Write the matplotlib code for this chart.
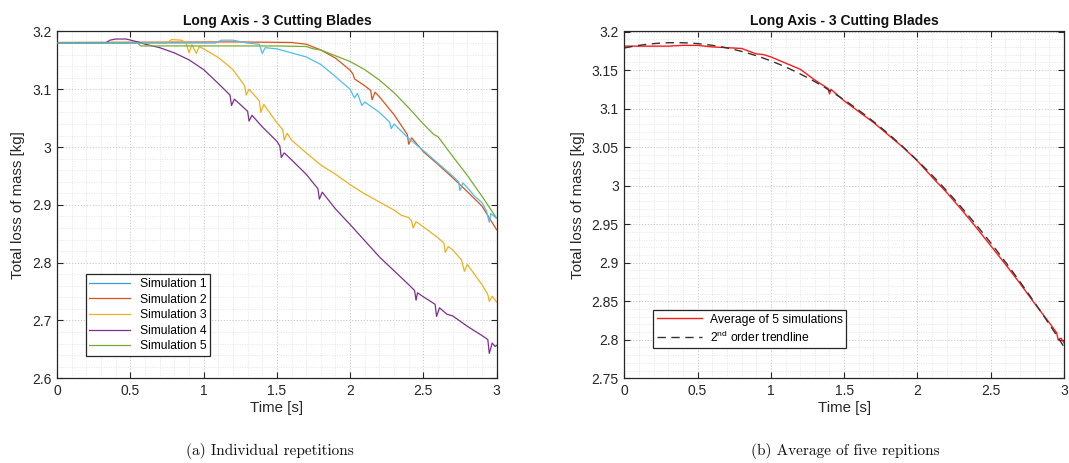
import matplotlib
matplotlib.use("Agg")
import matplotlib.pyplot as plt
import numpy as np
from matplotlib.ticker import MultipleLocator, FuncFormatter

plt.rcParams["font.family"] = "Liberation Sans"
plt.rcParams["mathtext.fontset"] = "custom"
plt.rcParams["mathtext.rm"] = "Liberation Sans"

TXT = "#262626"
SIM_COLORS = ["#4DBEEE", "#D95319", "#EDB120", "#7E2F8E", "#77AC30"]

# --- individual repetitions: time [s] and mass [kg] ---
sim1_t = [0, 1.08, 1.12, 1.2, 1.3, 1.38, 1.40, 1.42, 1.5, 1.6, 1.7, 1.8, 1.9,
          2.0, 2.03, 2.05, 2.08, 2.1, 2.2, 2.27, 2.28, 2.30, 2.4, 2.5, 2.6, 2.7,
          2.74, 2.75, 2.77, 2.8, 2.85, 2.9, 2.93, 2.95, 2.96, 3.0]
sim1_m = [3.180, 3.180, 3.185, 3.185, 3.180, 3.178, 3.162, 3.172, 3.170, 3.163,
          3.156, 3.143, 3.122, 3.100, 3.085, 3.093, 3.072, 3.078, 3.060, 3.043,
          3.032, 3.040, 3.015, 2.994, 2.972, 2.950, 2.940, 2.925, 2.938, 2.930,
          2.915, 2.904, 2.890, 2.870, 2.885, 2.877]

sim2_t = [0, 1.2, 1.6, 1.7, 1.75, 1.8, 1.9, 2.0, 2.02, 2.03, 2.1, 2.14, 2.15,
          2.17, 2.2, 2.3, 2.39, 2.40, 2.42, 2.5, 2.6, 2.7, 2.8, 2.9, 3.0]
sim2_m = [3.181, 3.182, 3.181, 3.178, 3.173, 3.168, 3.154, 3.133, 3.126, 3.118,
          3.106, 3.098, 3.082, 3.095, 3.087, 3.056, 3.022, 3.005, 3.016, 2.992,
          2.970, 2.947, 2.923, 2.898, 2.857]

sim3_t = [0, 0.75, 0.78, 0.85, 0.88, 0.90, 0.92, 0.95, 0.97, 1.0, 1.1, 1.2,
          1.28, 1.29, 1.31, 1.38, 1.39, 1.41, 1.5, 1.54, 1.55, 1.57, 1.6, 1.7,
          1.8, 1.9, 2.0, 2.1, 2.2, 2.3, 2.35, 2.4, 2.42, 2.43, 2.45, 2.5, 2.6,
          2.64, 2.65, 2.67, 2.7, 2.76, 2.78, 2.8, 2.9, 2.94, 2.95, 2.97, 3.0]
sim3_m = [3.180, 3.180, 3.186, 3.185, 3.180, 3.163, 3.177, 3.162, 3.174, 3.170,
          3.155, 3.134, 3.106, 3.090, 3.100, 3.080, 3.060, 3.074, 3.042, 3.030,
          3.012, 3.024, 3.012, 2.990, 2.969, 2.953, 2.935, 2.919, 2.905, 2.891,
          2.882, 2.878, 2.872, 2.860, 2.871, 2.862, 2.843, 2.834, 2.818, 2.828,
          2.822, 2.805, 2.785, 2.797, 2.762, 2.745, 2.733, 2.742, 2.732]

sim4_t = [0, 0.33, 0.36, 0.40, 0.47, 0.55, 0.6, 0.7, 0.8, 0.9, 1.0, 1.1, 1.18,
          1.19, 1.21, 1.3, 1.31, 1.33, 1.4, 1.5, 1.52, 1.53, 1.55, 1.6, 1.7,
          1.78, 1.79, 1.81, 1.9, 2.0, 2.1, 2.2, 2.3, 2.4, 2.44, 2.45, 2.46, 2.5,
          2.58, 2.59, 2.61, 2.66, 2.7, 2.8, 2.9, 2.94, 2.95, 2.97, 2.99, 3.0]
sim4_m = [3.180, 3.180, 3.185, 3.187, 3.187, 3.182, 3.178, 3.172, 3.163, 3.151,
          3.134, 3.110, 3.090, 3.072, 3.083, 3.062, 3.045, 3.055, 3.035, 3.010,
          3.002, 2.982, 2.990, 2.978, 2.953, 2.928, 2.910, 2.922, 2.893, 2.866,
          2.838, 2.810, 2.786, 2.762, 2.752, 2.735, 2.748, 2.741, 2.728, 2.707,
          2.722, 2.711, 2.708, 2.690, 2.674, 2.667, 2.643, 2.661, 2.655, 2.657]

sim5_t = [0, 0.55, 0.57, 1.0, 1.5, 1.7, 1.75, 1.8, 1.9, 2.0, 2.1, 2.2, 2.3,
          2.4, 2.5, 2.57, 2.6, 2.7, 2.8, 2.9, 3.0]
sim5_m = [3.180, 3.180, 3.175, 3.175, 3.175, 3.174, 3.170, 3.168, 3.158, 3.148,
          3.134, 3.116, 3.094, 3.068, 3.040, 3.022, 3.018, 2.984, 2.951, 2.915,
          2.877]

sim_labels = ["Simulation 1", "Simulation 2", "Simulation 3",
              "Simulation 4", "Simulation 5"]

# --- average of the five runs ---
avg_t = [0.0, 0.1, 0.2, 0.3, 0.4, 0.5, 0.6, 0.7, 0.8, 0.9, 0.95, 1.0, 1.1,
         1.2, 1.3, 1.39, 1.40, 1.41, 1.5, 1.6, 1.7, 1.8, 1.9, 2.0, 2.1, 2.2,
         2.3, 2.4, 2.5, 2.6, 2.7, 2.8, 2.9, 2.95, 2.96, 2.98, 3.0]
avg_m = [3.181, 3.181, 3.181, 3.181, 3.182, 3.182, 3.180, 3.179, 3.178, 3.171,
         3.170, 3.167, 3.159, 3.151, 3.137, 3.126, 3.119, 3.125, 3.110, 3.096,
         3.082, 3.066, 3.050, 3.032, 3.011, 2.991, 2.969, 2.946, 2.922, 2.898,
         2.873, 2.847, 2.822, 2.809, 2.800, 2.802, 2.796]

W, H = 1069, 463
fig = plt.figure(figsize=(W / 100, H / 100), dpi=100)


def px_axes(x0, x1, y0, y1):
    return fig.add_axes([x0 / W, 1 - y1 / H, (x1 - x0) / W, (y1 - y0) / H])


def style(ax, ymin, ymax, ymajor, yminor):
    ax.set_xlim(0, 3)
    ax.set_ylim(ymin, ymax)
    ax.xaxis.set_major_locator(MultipleLocator(0.5))
    ax.xaxis.set_minor_locator(MultipleLocator(0.1))
    ax.yaxis.set_major_locator(MultipleLocator(ymajor))
    ax.yaxis.set_minor_locator(MultipleLocator(yminor))
    fmt = FuncFormatter(lambda v, _: f"{v:g}")
    ax.xaxis.set_major_formatter(fmt)
    ax.yaxis.set_major_formatter(fmt)
    ax.grid(which="major", color="#c4c4c4", linestyle=(0, (1.5, 2)), linewidth=0.6)
    ax.grid(which="minor", color="#dedede", linestyle=(0, (1.5, 2)), linewidth=0.5)
    ax.set_axisbelow(True)
    ax.tick_params(which="major", direction="in", top=True, right=True,
                   length=4, width=0.8, colors=TXT, labelsize=10, pad=4)
    ax.tick_params(which="minor", length=0)
    for s in ax.spines.values():
        s.set_color(TXT)
        s.set_linewidth(0.9)
    ax.set_title("Long Axis - 3 Cutting Blades", fontsize=10, fontweight="bold",
                 color="#111111", pad=5)
    ax.set_xlabel("Time [s]", fontsize=10.8, color=TXT, labelpad=2)
    ax.set_ylabel("Total loss of mass [kg]", fontsize=10.8, color=TXT, labelpad=5)


# (a) individual runs
ax1 = px_axes(57.2, 496.6, 31.5, 378.3)
sims = [(sim1_t, sim1_m), (sim2_t, sim2_m), (sim3_t, sim3_m),
        (sim4_t, sim4_m), (sim5_t, sim5_m)]
zorders = [2.6, 2.1, 2.2, 2.3, 2.4]
for (t, m), c, lab, z in zip(sims, SIM_COLORS, sim_labels, zorders):
    ax1.plot(t, m, color=c, lw=0.9, label=lab, zorder=z)
style(ax1, 2.6, 3.2, 0.1, 0.02)
leg1 = ax1.legend(loc="lower left", bbox_to_anchor=(0.065, 0.064), fontsize=8.7,
                  frameon=True, fancybox=False, framealpha=1, edgecolor=TXT,
                  handlelength=3.4, handletextpad=0.8, labelspacing=0.3,
                  borderpad=0.3, borderaxespad=0)
leg1.get_frame().set_linewidth(0.9)
leg1.get_lines()[0].set_color("#3A9BD5")

# (b) average with quadratic trend
ax2 = px_axes(624.3, 1064.0, 31.5, 378.3)
ax2.plot(avg_t, avg_m, color="#FF1A1A", lw=1.0, label="Average of 5 simulations")
coef = np.polyfit(avg_t, avg_m, 2)
tt = np.linspace(0, 3, 200)
ax2.plot(tt, np.polyval(coef, tt), color="#333333", lw=1.0, ls=(0, (6, 4)),
         label=r"2$^{\mathregular{nd}}$ order trendline")
style(ax2, 2.75, 3.2, 0.05, 0.01)
leg2 = ax2.legend(loc="lower left", bbox_to_anchor=(0.065, 0.087), fontsize=8.7,
                  frameon=True, fancybox=False, framealpha=1, edgecolor=TXT,
                  handlelength=3.8, handletextpad=0.6, labelspacing=0.3,
                  borderpad=0.3, borderaxespad=0)
leg2.get_frame().set_linewidth(0.9)

fig.text(270 / W, 1 - 451 / H, "(a) Individual repetitions", family="cmr10",
         fontsize=11, ha="center", va="center", color="#111111")
fig.text(845 / W, 1 - 451 / H, "(b) Average of five repitions", family="cmr10",
         fontsize=11, ha="center", va="center", color="#111111")

fig.savefig("out.png", dpi=100, facecolor="white")
